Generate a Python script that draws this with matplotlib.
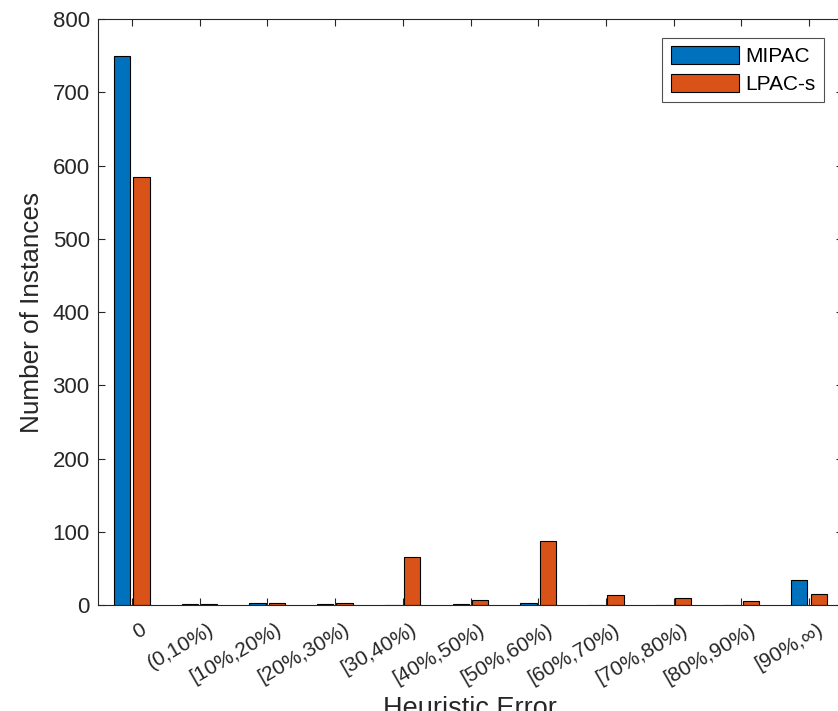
import numpy as np
import matplotlib.pyplot as plt
import matplotlib.transforms as mtransforms

plt.rcParams['font.family'] = ['Liberation Sans', 'DejaVu Sans']

categories = ['0', '(0,10%)', '[10%,20%)', '[20%,30%)', '[30,40%)', '[40%,50%)',
              '[50%,60%)', '[60%,70%)', '[70%,80%)', '[80%,90%)', '[90%,\u221e)']
mipac = [750, 2, 3, 1, 0, 2, 3, 0, 0, 0, 34]
lpac_s = [585, 1, 3, 3, 66, 7, 87, 14, 10, 5, 15]

fig = plt.figure(figsize=(8.38, 7.11), dpi=100)
ax = fig.add_axes([0.117, 0.149, 0.889, 0.824])

x = np.arange(1, len(categories) + 1)
w = 0.24
ax.bar(x - 0.145, mipac, w, color='#0072BD', edgecolor='black', linewidth=0.8, label='MIPAC')
ax.bar(x + 0.14, lpac_s, w, color='#D95319', edgecolor='black', linewidth=0.8, label='LPAC-s')

ax.set_xlim(0.5, 11.5)
ax.set_ylim(0, 800)
ax.set_yticks(np.arange(0, 801, 100))
ax.set_xticks(x)
ax.set_xticklabels(categories, rotation=30, ha='right', va='top', rotation_mode='anchor')
ax.tick_params(direction='in', top=True, right=True, labelsize=16, length=5, color='#262626',
               labelcolor='#262626')
ax.tick_params(axis='x', labelsize=15)
ax.tick_params(axis='y', pad=6)
offset = mtransforms.ScaledTranslation(8 / 100, -10 / 100, fig.dpi_scale_trans)
for lbl in ax.get_xticklabels():
    lbl.set_transform(lbl.get_transform() + offset)
for s in ax.spines.values():
    s.set_color('#262626')
    s.set_linewidth(0.8)

ax.set_xlabel('Heuristic Error', fontsize=19.5, color='#262626')
ax.xaxis.set_label_coords(470 / 838, 0.021, transform=fig.transFigure)
ax.set_ylabel('Number of Instances', fontsize=18.8, color='#262626', labelpad=6)

leg = ax.legend(loc='upper right', fontsize=15, fancybox=False, edgecolor='#262626',
                handlelength=3.3, handleheight=0.95, borderaxespad=0.9,
                labelspacing=0.35, handletextpad=0.3, borderpad=0.4)
leg.get_frame().set_linewidth(0.8)

fig.savefig('out.png', dpi=100)
